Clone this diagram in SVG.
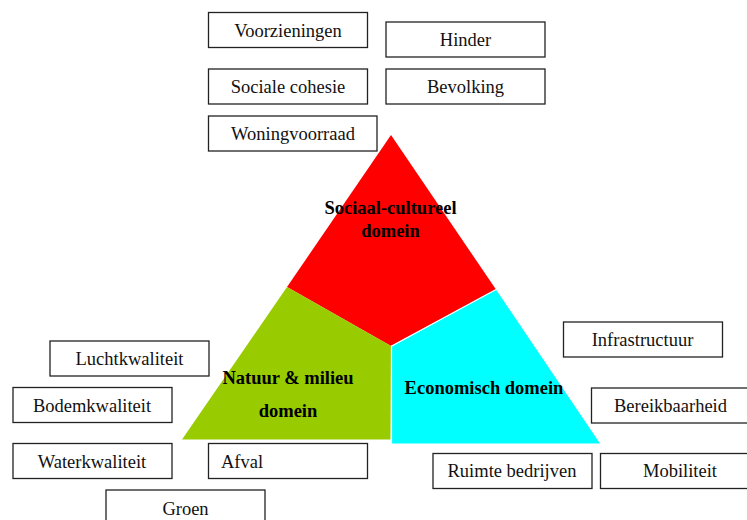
<svg xmlns="http://www.w3.org/2000/svg" width="747" height="520" viewBox="0 0 747 520">
  <style>
    .box rect { fill: #ffffff; stroke: #222222; stroke-width: 1.3; }
    .box text { font-family: "Liberation Serif", "Times New Roman", serif; font-size: 18.5px; fill: #111111; text-anchor: middle; }
    .dom text { font-family: "Liberation Serif", "Times New Roman", serif; font-size: 18.5px; font-weight: bold; fill: #000000; text-anchor: middle; }
  </style>
  <rect x="0" y="0" width="747" height="520" fill="#ffffff"/>

  <!-- Triangle split into three domains -->
  <g id="domain-social" class="dom">
    <polygon points="391,135 496,289.5 391,346 287,287" fill="#ff0000"/>
    <text x="390.5" y="213.5">Sociaal-cultureel</text>
    <text x="390.5" y="237">domein</text>
  </g>
  <g id="domain-nature" class="dom">
    <polygon points="287,287 391,346 390.5,439.5 182,439.5" fill="#99cc00"/>
    <text x="288" y="383.5">Natuur &amp; milieu</text>
    <text x="288" y="417">domein</text>
  </g>
  <g id="domain-economy" class="dom">
    <polygon points="496,289.5 600,443.5 392,443.5 392,346.5" fill="#00ffff"/>
    <text x="484" y="393.5">Economisch domein</text>
  </g>
  <!-- thin white seams between domains -->
  <g id="connectors" fill="none" stroke="#ffffff" stroke-width="1.2">
    <polyline points="496,289.5 391.5,346 391.5,443.5"/>
  </g>

  <!-- Social-cultural indicators -->
  <g id="voorzieningen" class="box"><rect x="208.5" y="12.5" width="159" height="35"/><text x="288" y="37.3">Voorzieningen</text></g>
  <g id="hinder" class="box"><rect x="386" y="22" width="159" height="35"/><text x="465.5" y="45.8">Hinder</text></g>
  <g id="sociale-cohesie" class="box"><rect x="208.5" y="69" width="159" height="35"/><text x="288" y="92.8">Sociale cohesie</text></g>
  <g id="bevolking" class="box"><rect x="386" y="69" width="159" height="35"/><text x="465.5" y="92.8">Bevolking</text></g>
  <g id="woningvoorraad" class="box"><rect x="208.5" y="116" width="168.5" height="35"/><text x="293" y="139.5">Woningvoorraad</text></g>

  <!-- Nature & environment indicators -->
  <g id="luchtkwaliteit" class="box"><rect x="50" y="341" width="159" height="35"/><text x="129.5" y="364.5">Luchtkwaliteit</text></g>
  <g id="bodemkwaliteit" class="box"><rect x="13" y="387.5" width="159" height="35"/><text x="92" y="411.8">Bodemkwaliteit</text></g>
  <g id="waterkwaliteit" class="box"><rect x="13" y="443.5" width="159" height="35"/><text x="92" y="467.5">Waterkwaliteit</text></g>
  <g id="afval" class="box"><rect x="208.5" y="443.5" width="159" height="35"/><text x="221" y="467.5" style="text-anchor:start">Afval</text></g>
  <g id="groen" class="box"><rect x="106" y="490" width="159" height="35"/><text x="185.5" y="515">Groen</text></g>

  <!-- Economic indicators -->
  <g id="infrastructuur" class="box"><rect x="563.5" y="322" width="159" height="35"/><text x="642.5" y="346">Infrastructuur</text></g>
  <g id="bereikbaarheid" class="box"><rect x="591.5" y="388" width="159" height="35"/><text x="670.5" y="411.8">Bereikbaarheid</text></g>
  <g id="ruimte-bedrijven" class="box"><rect x="433" y="453.5" width="159" height="35"/><text x="512" y="477">Ruimte bedrijven</text></g>
  <g id="mobiliteit" class="box"><rect x="600.5" y="453.5" width="159" height="35"/><text x="680" y="477">Mobiliteit</text></g>
</svg>
